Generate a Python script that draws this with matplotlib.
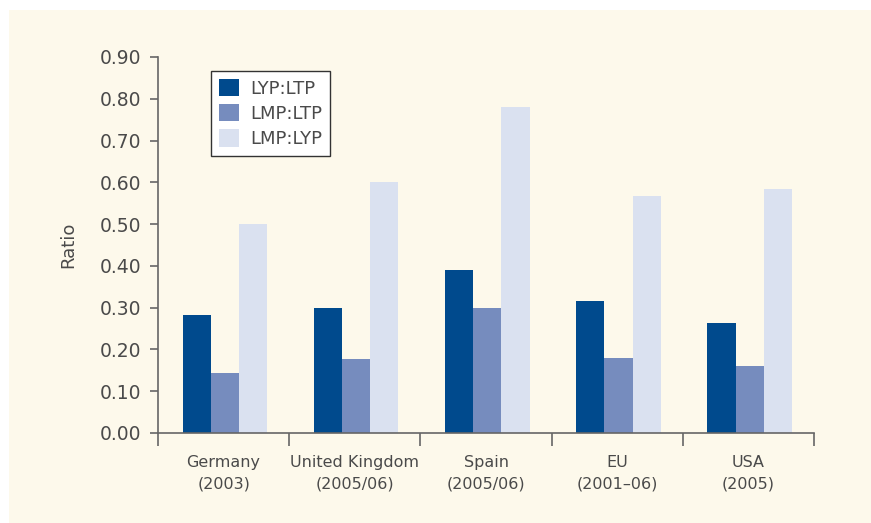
import numpy as np
import matplotlib.pyplot as plt
from matplotlib.patches import Rectangle

# data
countries = ['Germany\n(2003)', 'United Kingdom\n(2005/06)', 'Spain\n(2005/06)',
             'EU\n(2001\u201306)', 'USA\n(2005)']
lyp_ltp = [0.282, 0.299, 0.390, 0.316, 0.263]
lmp_ltp = [0.144, 0.177, 0.299, 0.179, 0.160]
lmp_lyp = [0.500, 0.600, 0.780, 0.567, 0.585]
series_names = ['LYP:LTP', 'LMP:LTP', 'LMP:LYP']
colors = ['#004a8d', '#768cbe', '#dae1f0']
yticks = [0.0, 0.1, 0.2, 0.3, 0.4, 0.5, 0.6, 0.7, 0.8, 0.9]

plt.rcParams['font.family'] = ['DejaVu Sans']
bg = '#fdf9eb'
txt = '#4a4a4a'
axc = '#666666'

fig = plt.figure(figsize=(8.71, 5.23), dpi=100)
fig.patch.set_facecolor('white')
# cream panel behind everything
panel = Rectangle((9 / 871, 0), 1, 1 - 10 / 523, transform=fig.transFigure,
                  facecolor=bg, edgecolor='none', zorder=-10)
fig.add_artist(panel)

ax = fig.add_axes([158 / 871, 1 - 433 / 523, (814 - 158) / 871, (433 - 57) / 523])
ax.set_facecolor(bg)
ax.set_zorder(5)

x = np.arange(len(countries))
w = 0.215
for i, vals in enumerate([lyp_ltp, lmp_ltp, lmp_lyp]):
    ax.bar(x + (i - 1) * w + 0.01, vals, width=w, color=colors[i], label=series_names[i],
           linewidth=0, zorder=2)

ax.set_xlim(-0.5, len(countries) - 0.5)
ax.set_ylim(0, 0.9)
ax.set_yticks(yticks)
ax.set_yticklabels(['%.2f' % v for v in yticks], fontsize=13.5, color=txt)
ax.tick_params(axis='y', direction='out', length=6, width=1.2, color=axc, pad=6)

ax.set_xticks(x)
ax.set_xticklabels(countries, fontsize=11.5, color=txt, linespacing=1.55)
ax.set_xticks(np.arange(-0.5, len(countries)), minor=True)
ax.tick_params(axis='x', which='major', length=0, pad=16)
ax.tick_params(axis='x', which='minor', direction='out', length=9, width=1.2, color=axc)

for s in ['top', 'right']:
    ax.spines[s].set_visible(False)
for s in ['left', 'bottom']:
    ax.spines[s].set_color(axc)
    ax.spines[s].set_linewidth(1.2)

ax.set_ylabel('Ratio', fontsize=13, color=txt, labelpad=16)

leg = ax.legend(loc='upper left', bbox_to_anchor=(0.081, 0.963), borderaxespad=0,
                fancybox=False, framealpha=1, edgecolor='#333333', fontsize=13,
                handlelength=1.1, handleheight=1.1, handletextpad=0.6,
                labelspacing=0.35, borderpad=0.45)
leg.get_frame().set_linewidth(1.0)
for t in leg.get_texts():
    t.set_color(txt)

fig.savefig('out.png', dpi=100, facecolor=fig.get_facecolor())
